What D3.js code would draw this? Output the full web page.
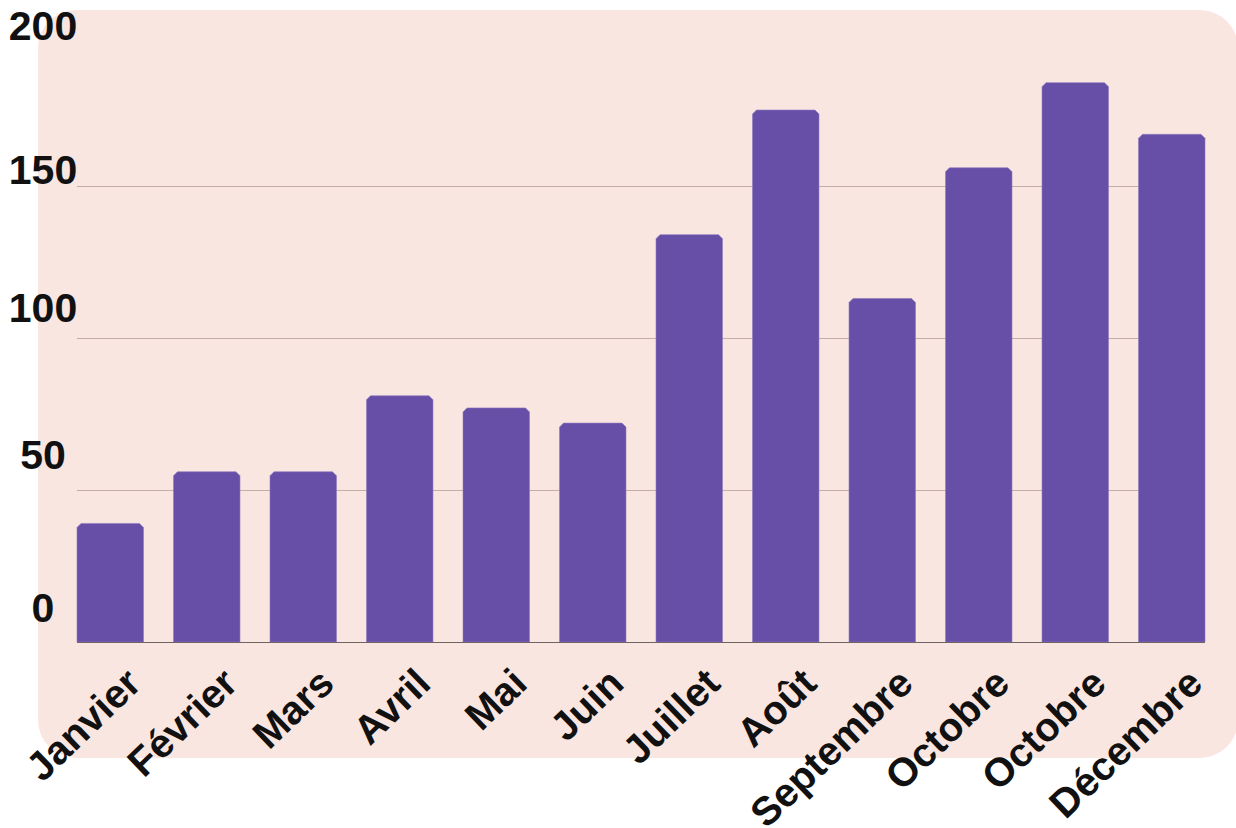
<!DOCTYPE html>
<html>
<head>
<meta charset="utf-8">
<script src="https://cdn.jsdelivr.net/npm/d3@7"></script>
<style>
  html, body { margin: 0; padding: 0; background: #ffffff; }
  svg { display: block; }
  text { font-family: "Liberation Sans", Arial, sans-serif; font-weight: bold; fill: #111111; }
</style>
</head>
<body>
<svg id="chart" width="1236" height="828"></svg>
<script>
// Monthly values
const months = ["Janvier", "Février", "Mars", "Avril", "Mai", "Juin",
                "Juillet", "Août", "Septembre", "Octobre", "Octobre", "Décembre"];
const values = [39, 56, 56, 81, 77, 72, 134, 175, 113, 156, 184, 167];
const yTicks = [0, 50, 100, 150, 200];

const svg = d3.select("#chart");

// Panel behind the plot
svg.append("rect")
  .attr("x", 38).attr("y", 10)
  .attr("width", 1200).attr("height", 748)
  .attr("rx", 38).attr("ry", 38)
  .attr("fill", "#f9e6e0");

const x = d3.scaleBand()
  .domain(d3.range(months.length))
  .range([77, 1205])
  .paddingInner(0.311)
  .paddingOuter(0);

const y = d3.scaleLinear().domain([0, 200]).range([642, 34]);

// Tick labels sit on their own scale, above the gridlines
const yLabel = d3.scaleLinear().domain(yTicks).range([622, 469, 322, 184, 40]);

// Horizontal gridlines
svg.append("g")
  .selectAll("line")
  .data(yTicks.filter(t => t > 0 && t < 200))
  .join("line")
  .attr("x1", 77).attr("x2", 1205)
  .attr("y1", d => y(d) + 0.5).attr("y2", d => y(d) + 0.5)
  .attr("stroke", "#c3aea8")
  .attr("stroke-width", 1);

// Bars with clipped top corners
const cut = 4;
function barPath(i, v) {
  const x0 = x(i), w = x.bandwidth(), top = y(v), base = y(0);
  return `M${x0},${base}L${x0},${top + cut}L${x0 + cut},${top}` +
         `L${x0 + w - cut},${top}L${x0 + w},${top + cut}L${x0 + w},${base}Z`;
}
svg.append("g")
  .selectAll("path")
  .data(values)
  .join("path")
  .attr("d", (d, i) => barPath(i, d))
  .attr("fill", "#674ea7")
  .attr("stroke", "#8f7cc0")
  .attr("stroke-width", 0.6);

// Baseline
svg.append("line")
  .attr("x1", 77).attr("x2", 1205)
  .attr("y1", y(0) + 0.5).attr("y2", y(0) + 0.5)
  .attr("stroke", "#6f6464")
  .attr("stroke-width", 1.2);

// Y tick labels
svg.append("g")
  .selectAll("text")
  .data(yTicks)
  .join("text")
  .attr("x", 43)
  .attr("y", d => yLabel(d))
  .attr("text-anchor", "middle")
  .attr("font-size", 41)
  .text(d => d);

// Month labels, rotated
svg.append("g")
  .selectAll("text")
  .data(months)
  .join("text")
  .attr("text-anchor", "end")
  .attr("font-size", 40)
  .attr("transform", (d, i) => {
    const cx = x(i) + x.bandwidth() / 2 + 33;
    return `translate(${cx},686) rotate(-44)`;
  })
  .text(d => d);
</script>
</body>
</html>
